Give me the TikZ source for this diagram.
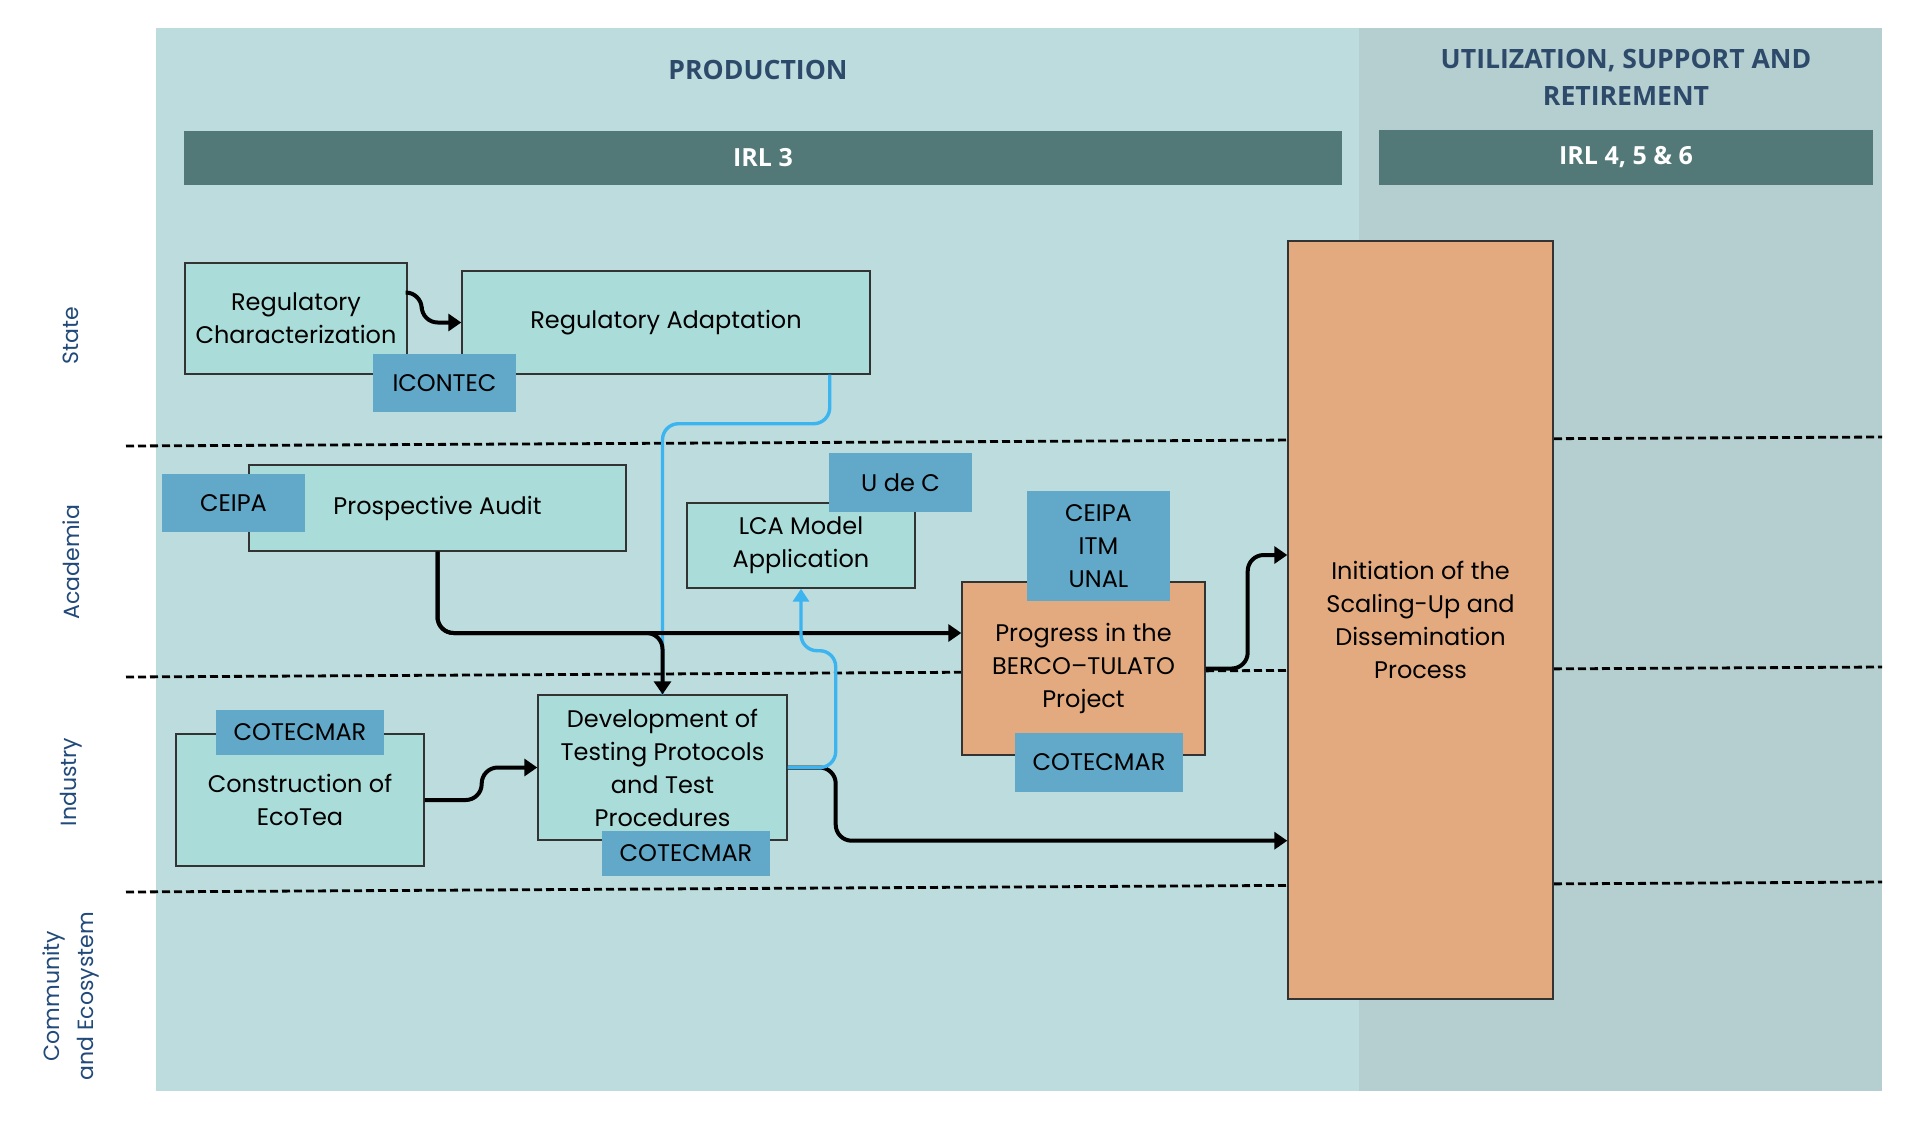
\documentclass[tikz,border=0pt]{standalone}
\usepackage{fontspec}
\setmainfont{Poppins}
\newfontfamily\headfont{Open Sans}
\usetikzlibrary{arrows.meta,calc}
\definecolor{fondoprod}{HTML}{BDDCDD}
\definecolor{fondouso}{HTML}{B5CFD0}
\definecolor{barra}{HTML}{527878}
\definecolor{titulo}{HTML}{2D4A6B}
\definecolor{carril}{HTML}{21497A}
\definecolor{caja}{HTML}{AADDD9}
\definecolor{etiqueta}{HTML}{62A8C8}
\definecolor{naranja}{HTML}{E3AA7F}
\definecolor{celeste}{HTML}{3BB4F0}
\newcommand{\cajafont}{\fontsize{12}{16.5}\selectfont}

\begin{document}
\begin{tikzpicture}[x=0.5pt, y=-0.5pt,
    box/.style={draw=black!80, line width=0.7pt, fill=caja, inner sep=0pt,
                align=center, font=\cajafont},
    hot/.style={box, fill=naranja},
    tag/.style={fill=etiqueta, inner sep=0pt, align=center, font=\cajafont},
    bar/.style={fill=barra, text=white, inner sep=0pt, font=\headfont\bfseries\fontsize{12.5}{15}\selectfont},
    head/.style={text=titulo, align=center, font=\headfont\bfseries\fontsize{13.3}{18.5}\selectfont},
    lanename/.style={rotate=90, text=carril, align=center, font=\fontsize{11}{17}\selectfont},
    lane/.style={black, line width=1.4pt, dash pattern=on 4pt off 2pt},
    flow/.style={black, line width=2pt, rounded corners=8pt, -{Triangle[length=6.5pt,width=8.5pt]}},
    link/.style={celeste, line width=1.7pt, rounded corners=8pt}]
  \useasboundingbox (0,0) rectangle (1920,1120);
  % fases
  \fill[fondoprod] (155.5,28) rectangle (1359,1091);
  \fill[fondouso] (1359,28) rectangle (1882,1091);
  \node[head] (prod) at (758,70) {PRODUCTION};
  \node[head] (uso) at (1626,77.5) {UTILIZATION, SUPPORT AND\\RETIREMENT};
  \node[bar, minimum width=579pt, minimum height=27pt] (irl3) at (763,158) {IRL 3};
  \node[bar, minimum width=247pt, minimum height=27.5pt] (irl456) at (1626,157.5) {IRL 4, 5 \& 6};
  % carriles
  \draw[lane] (126,446) -- (1882,437);
  \draw[lane] (126,677) -- (1882,667);
  \draw[lane] (126,892) -- (1882,882);
  \node[lanename] (state) at (71,336) {State};
  \node[lanename] (acad) at (71,562) {Academia};
  \node[lanename] (ind) at (71,782) {Industry};
  \node[lanename] (com) at (71,996) {Community\\and Ecosystem};
  % actividades
  \node[box, minimum width=111pt, minimum height=55.5pt] (rc) at (296,318.5) {Regulatory\\Characterization};
  \node[box, minimum width=204pt, minimum height=51.5pt] (ra) at (666,322.5) {Regulatory Adaptation};
  \node[box, minimum width=188.5pt, minimum height=43pt] (pa) at (437.5,508) {Prospective Audit};
  \node[box, minimum width=114pt, minimum height=42.5pt] (lca) at (801,545.5) {LCA Model\\Application};
  \node[hot, minimum width=121.5pt, minimum height=86.5pt] (prog) at (1083.5,668.5) {Progress in the\\BERCO--TULATO\\Project};
  \node[box, minimum width=124.5pt, minimum height=72.5pt] (dev) at (662.5,767.5) {Development of\\Testing Protocols\\and Test\\Procedures};
  \node[box, minimum width=124pt, minimum height=66pt] (eco) at (300,800) {Construction of\\EcoTea};
  \node[hot, minimum width=132.5pt, minimum height=379pt] (init) at (1420.5,620) {Initiation of the\\Scaling-Up and\\Dissemination\\Process};
  % conectores
  \coordinate (bus) at (0,633);
  \draw[link] ([xshift=-20.5pt]ra.south east) -- ++(0,49) -| (dev.north);
  \draw[flow] ([yshift=13pt]rc.east) -- ++(14,0) |- (ra.west);
  \draw[flow] (pa.south) |- (bus -| dev.north) -- (dev.north);
  \draw[flow] (pa.south) |- (bus -| prog.west);
  \draw[flow] (dev.east) -- ++(48,0) |- (dev.south -| init.west);
  \draw[link, -{Triangle[length=6.5pt,width=8pt]}] (dev.east) -- ++(48,0) |- ($(lca.south)+(0,62)$) -- (lca.south);
  \draw[flow] (eco.east) -- ++(57,0) |- (dev.west);
  \draw[flow] (prog.east) -- ++(42,0) |- ([yshift=32.5pt]init.west);
  % instituciones
  \node[tag, minimum width=71.5pt, minimum height=29pt] (icontec) at (444.5,383) {ICONTEC};
  \node[tag, minimum width=71.5pt, minimum height=29pt] (ceipa) at (233.5,503) {CEIPA};
  \node[tag, minimum width=71.5pt, minimum height=29.5pt] (udec) at (900.5,482.5) {U de C};
  \node[tag, minimum width=71.5pt, minimum height=55pt] (univ) at (1098.5,546) {CEIPA\\ITM\\UNAL};
  \node[tag, minimum width=84pt, minimum height=29.5pt] (cotprog) at (1099,762.5) {COTECMAR};
  \node[tag, minimum width=84pt, minimum height=22.5pt] (cotdev) at (686,853.5) {COTECMAR};
  \node[tag, minimum width=84pt, minimum height=22.5pt] (coteco) at (300,732.5) {COTECMAR};
\end{tikzpicture}
\end{document}
